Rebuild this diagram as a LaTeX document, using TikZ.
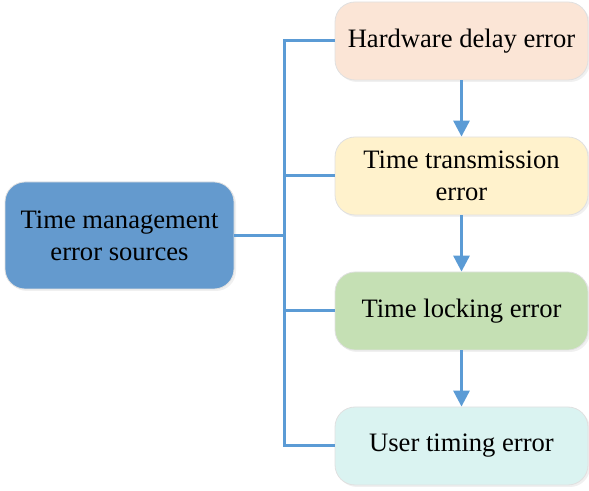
\documentclass[tikz,border=0pt]{standalone}
\usepackage{fontspec}
\setmainfont{Liberation Serif}
\usetikzlibrary{arrows.meta,shadows}

\definecolor{mainblue}{RGB}{100,154,206}
\definecolor{linkblue}{RGB}{91,155,213}
\definecolor{peach}{RGB}{251,229,214}
\definecolor{lightyellow}{RGB}{255,242,204}
\definecolor{lightgreen}{RGB}{197,224,180}
\definecolor{lightcyan}{RGB}{218,243,241}

\begin{document}
\begin{tikzpicture}[x=0.5pt,y=-0.5pt,>={Triangle[width=8pt,length=8pt]},
    every node/.style={font=\fontsize{13.3}{16}\selectfont},
    errbox/.style={draw=black!12, rounded corners=10pt, minimum width=126.5pt, minimum height=39pt, align=center,
        drop shadow={opacity=0.12, shadow xshift=1pt, shadow yshift=-1pt}},
    link/.style={draw=linkblue, line width=1.5pt}]
                \useasboundingbox (0,0) rectangle (589,491);

                % Source box
                \node[errbox, fill=mainblue, minimum width=114.5pt, minimum height=53.5pt] (src) at (119.5,235.5) {Time management\\error sources};

                % Error boxes (stacked on the right)
                \node[errbox, fill=peach] (hw) at (461.5,41) {Hardware delay error};
                \node[errbox, fill=lightyellow] (tx) at (461.5,176) {Time transmission\\error};
                \node[errbox, fill=lightgreen] (lock) at (461.5,311) {Time locking error};
                \node[errbox, fill=lightcyan] (user) at (461.5,446) {User timing error};

                % Trunk where the branches split
                \coordinate (trunk) at (284,235.5);
                \coordinate (top) at (284,41);
                \coordinate (bot) at (284,446);

                % Branches
                \draw[link] (src.east) -- (trunk);
                \draw[link] (hw.west) -- (top) -- (bot) -- (user.west);
                \draw[link] (tx.west) -- (tx.west -| trunk);
                \draw[link] (lock.west) -- (lock.west -| trunk);

                % Chain of arrows
                \draw[link,->] (hw.south) -- (tx.north);
                \draw[link,->] (tx.south) -- (lock.north);
                \draw[link,->] (lock.south) -- (user.north);
            \end{tikzpicture}
\end{document}
